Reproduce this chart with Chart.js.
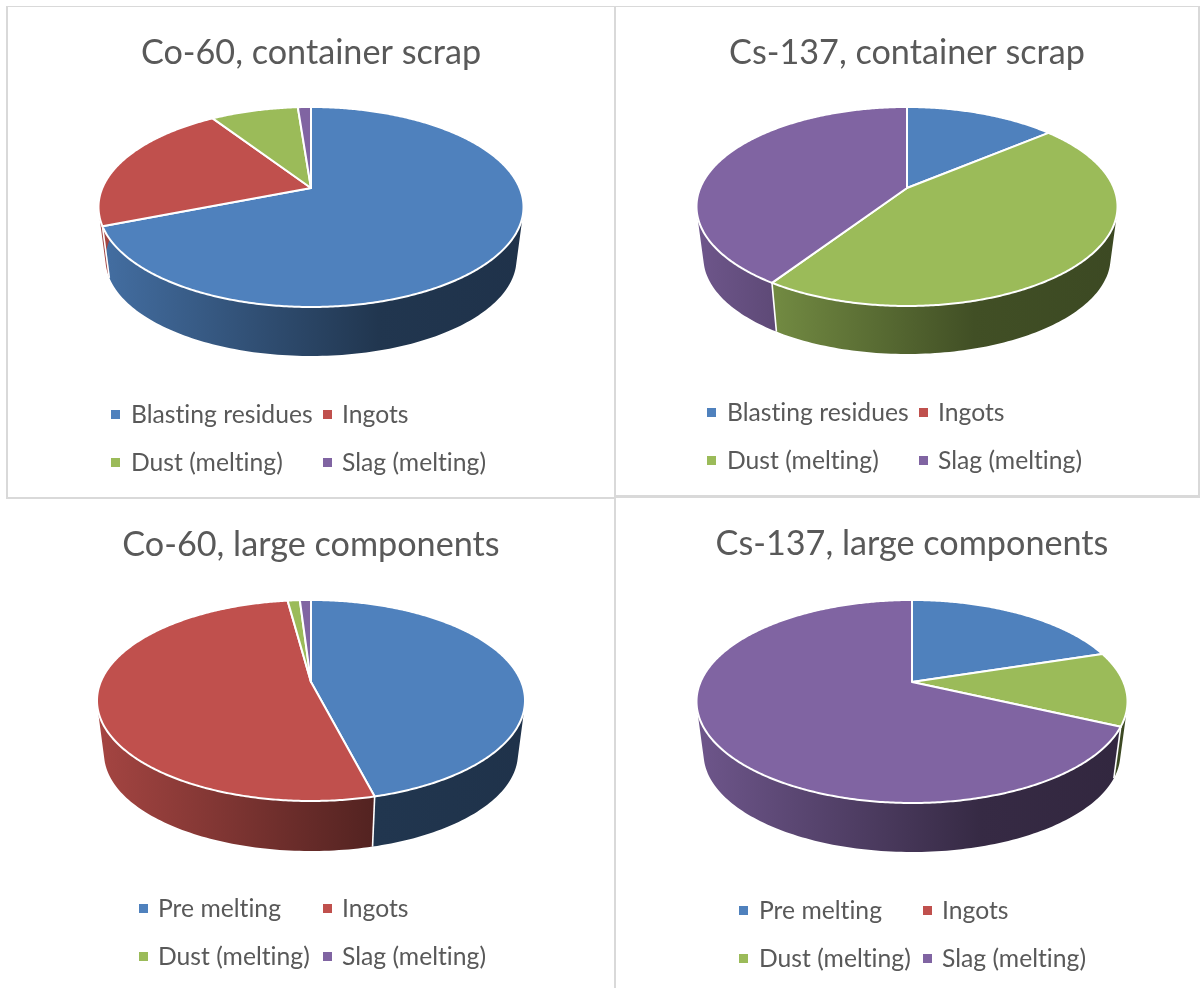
<!DOCTYPE html>
<html>
<head>
<meta charset="utf-8">
<title>Activity distribution</title>
<script src="https://cdn.jsdelivr.net/npm/chart.js@4"></script>
<style>
html,body{margin:0;padding:0;background:#fff;}
#page{position:relative;width:1200px;height:988px;overflow:hidden;font-family:Lato,sans-serif;color:#595959;}
#page canvas{position:absolute;}
.rule{position:absolute;background:#d9d9d9;}
.key{position:absolute;font-size:24.7px;line-height:28px;white-space:nowrap;font-variant-ligatures:none;}
.swatch{position:absolute;width:9px;height:9px;}
</style>
</head>
<body>
<div id="page">
  <div class="rule" style="left:6px;top:6px;width:1194px;height:1px"></div>
  <div class="rule" style="left:6px;top:6px;width:2px;height:491px"></div>
  <div class="rule" style="left:6px;top:497px;width:608px;height:2px"></div>
  <div class="rule" style="left:616px;top:495px;width:584px;height:3px"></div>
  <div class="rule" style="left:614px;top:6px;width:2px;height:982px"></div>
  <div class="rule" style="left:1198px;top:6px;width:2px;height:490px"></div>
</div>
<script>
const titles = ['Co-60, container scrap','Cs-137, container scrap','Co-60, large components','Cs-137, large components'];
const containerLabels = ['Blasting residues','Ingots','Dust (melting)','Slag (melting)'];
const largeLabels = ['Pre melting','Ingots','Dust (melting)','Slag (melting)'];
const co60Container = [69,21.8,8,1.2];
const cs137Container = [13.9,0,45.4,40.7];
const co60Large = [46,51.9,1.1,1];
const cs137Large = [20.1,0,11.8,68.1];
const colors = ['#4f81bd','#c0504d','#9bbb59','#8064a2'];

// where each disc sits on the page: apex, half width, top/front edge, bottom of the wall
const panels = [
  {labels:containerLabels,values:co60Container,cx:311,cy:188,rx:212.5,top:107,front:307,base:356,canvasTop:0,
   keyY:[414,462],keyX:[[111,131,323,342],[111,131,323,342]]},
  {labels:containerLabels,values:cs137Container,cx:907,cy:188,rx:210.5,top:107,front:306,base:354,canvasTop:0,
   keyY:[412,460],keyX:[[707,727,919,938],[707,727,919,938]]},
  {labels:largeLabels,values:co60Large,cx:311,cy:682,rx:214,top:600,front:801,base:851,canvasTop:492,
   keyY:[908,956],keyX:[[139,158,323,342],[139,158,323,342]]},
  {labels:largeLabels,values:cs137Large,cx:912,cy:682,rx:215.5,top:600,front:803,base:852,canvasTop:491,
   keyY:[910,958],keyX:[[739,759,923,942],[739,759,923,942]]}
];

function shade(hex,f){
  const n = parseInt(hex.slice(1),16);
  return `rgb(${Math.round((n>>16)*f)},${Math.round((n>>8&255)*f)},${Math.round((n&255)*f)})`;
}

// tilted disc: perspective projection of the unit circle
function projector(p,ox,oy){
  const a = p.cy-p.top, b = p.front-p.cy;
  const k = (a-b)/(a+b), s = b*(1+k);
  const r = p.rx*Math.sqrt(1-k*k);
  const wallScale = 0.967;
  const wallDrop = p.base-(p.cy+wallScale*b);
  return (angle,radius,onBase)=>{
    const X = Math.cos(angle)*radius, Y = Math.sin(angle)*radius;
    const w = 1+k*Y;
    const f = onBase ? wallScale : 1;
    return [ox+f*r*X/w, oy+f*s*Y/w+(onBase?wallDrop:0)];
  };
}

function traceArc(ctx,project,from,to,first){
  const steps = Math.max(2,Math.ceil(Math.abs(to-from)/0.01));
  for(let i=0;i<=steps;i++){
    const t = from+(to-from)*i/steps;
    const pt = project(t,1,false);
    if(first && i===0) ctx.moveTo(pt[0],pt[1]); else ctx.lineTo(pt[0],pt[1]);
  }
}

// wall as one path of small quads, all wound the same way, so the
// silhouette follows the ruled edge and no seams show
function fillWall(ctx,project,from,to,paint){
  const steps = Math.max(1,Math.ceil((to-from)/0.02));
  ctx.beginPath();
  for(let i=0;i<steps;i++){
    const t0 = from+(to-from)*i/steps, t1 = from+(to-from)*(i+1)/steps;
    const q = [project(t0,1,false),project(t1,1,false),project(t1,1,true),project(t0,1,true)];
    let area = 0;
    for(let j=0;j<4;j++){
      const u = q[j], v = q[(j+1)%4];
      area += u[0]*v[1]-v[0]*u[1];
    }
    if(area<0) q.reverse();
    ctx.moveTo(q[0][0],q[0][1]);
    for(let j=1;j<4;j++) ctx.lineTo(q[j][0],q[j][1]);
    ctx.closePath();
  }
  ctx.fillStyle = paint;
  ctx.fill();
}

const disc3d = {
  id:'disc3d',
  beforeDatasetDraw(chart,args,opts){
    const p = opts.panel;
    const ctx = chart.ctx;
    const ox = p.cx-chart.canvas.offsetLeft, oy = p.cy-chart.canvas.offsetTop;
    const project = projector(p,ox,oy);
    const arcs = args.meta.data;
    const pairs = arcs.map((a,i)=>({s:a.startAngle,e:a.endAngle,i})).filter(a=>a.e-a.s>0);

    ctx.save();
    // side wall, darkening to the right
    pairs.forEach(a=>{
      const g = ctx.createLinearGradient(ox-p.rx,0,ox+p.rx,0);
      g.addColorStop(0,shade(colors[a.i],0.86));
      g.addColorStop(0.66,shade(colors[a.i],0.42));
      g.addColorStop(1,shade(colors[a.i],0.39));
      fillWall(ctx,project,a.s,a.e,g);
    });
    ctx.strokeStyle = '#fff';
    ctx.lineWidth = 1.6;
    pairs.forEach(a=>{
      const t = project(a.s,1,false), b = project(a.s,1,true);
      ctx.beginPath();
      ctx.moveTo(t[0],t[1]);
      ctx.lineTo(b[0],b[1]);
      ctx.stroke();
    });
    // top faces
    ctx.lineWidth = 2;
    ctx.lineJoin = 'round';
    pairs.forEach(a=>{
      ctx.beginPath();
      ctx.moveTo(ox,oy);
      traceArc(ctx,project,a.s,a.e,false);
      ctx.closePath();
      ctx.fillStyle = colors[a.i];
      ctx.fill();
      ctx.stroke();
    });
    ctx.restore();
    return false;
  }
};

const page = document.getElementById('page');

function addKey(p){
  p.labels.forEach((label,i)=>{
    const row = i>>1, col = i&1;
    const y = p.keyY[row];
    const sw = document.createElement('div');
    sw.className = 'swatch';
    sw.style.cssText = `left:${p.keyX[row][col*2]}px;top:${y-4}px;background:${colors[i]}`;
    page.appendChild(sw);
    const t = document.createElement('div');
    t.className = 'key';
    t.textContent = label;
    t.style.cssText = `left:${p.keyX[row][col*2+1]}px;top:${y-14}px`;
    page.appendChild(t);
  });
}

panels.forEach((p,n)=>{
  const c = document.createElement('canvas');
  c.width = 580; c.height = 480;
  c.style.left = (p.cx-290)+'px';
  c.style.top = p.canvasTop+'px';
  c.style.width = '580px'; c.style.height = '480px';
  page.appendChild(c);
  new Chart(c,{
    type:'pie',
    plugins:[disc3d],
    data:{
      labels:p.labels,
      datasets:[{data:p.values,backgroundColor:colors,borderColor:'#fff'}]
    },
    options:{
      responsive:false,
      animation:false,
      plugins:{
        legend:{display:false},
        tooltip:{enabled:false},
        title:{
          display:true,
          text:titles[n],
          color:'#595959',
          font:{family:'Lato',size:34.2,weight:'normal'},
          padding:{top:32,bottom:10}
        },
        disc3d:{panel:p}
      }
    }
  });
  addKey(p);
});
</script>
</body>
</html>
